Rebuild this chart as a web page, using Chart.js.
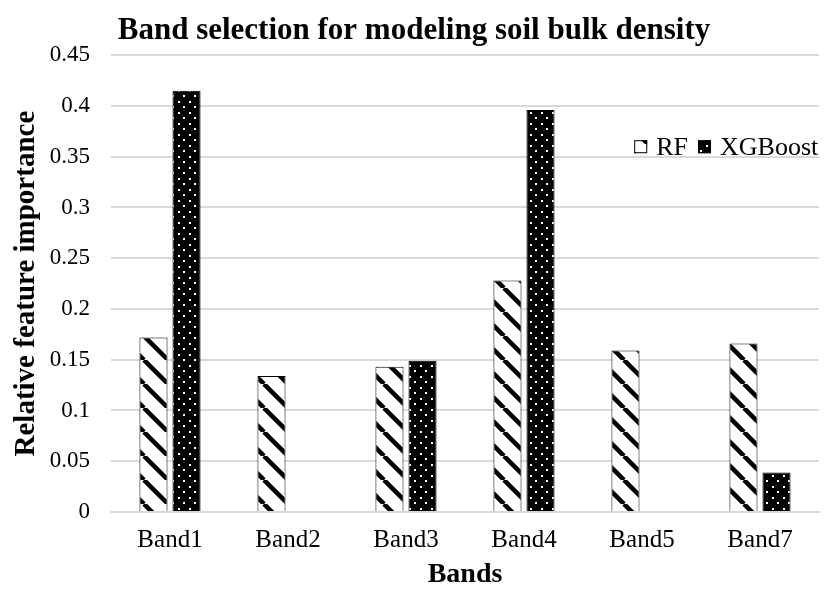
<!DOCTYPE html>
<html>
<head>
<meta charset="utf-8">
<script src="https://cdn.jsdelivr.net/npm/chart.js@4.4.1/dist/chart.umd.min.js"></script>
<style>
  html, body { margin: 0; padding: 0; background: #fff; }
  #wrap { width: 833px; height: 592px; }
</style>
</head>
<body>
<div id="wrap"><canvas id="bandChart"></canvas></div>
<script>
const categories = ["Band1", "Band2", "Band3", "Band4", "Band5", "Band7"];
const rfValues = [0.172, 0.134, 0.143, 0.228, 0.159, 0.166];
const xgbValues = [0.415, 0, 0.149, 0.396, 0, 0.039];
const seriesNames = ["RF", "XGBoost"];

const serif = "'Liberation Serif', 'Times New Roman', serif";

// diagonal stripes for RF
function stripePattern() {
    const s = 24;
    const c = document.createElement("canvas");
    c.width = s; c.height = s;
    const g = c.getContext("2d");
    g.fillStyle = "#fff";
    g.fillRect(0, 0, s, s);
    g.strokeStyle = "#000";
    g.lineWidth = 4.5;
    for (const o of [-s, 0, s]) {
        g.beginPath();
        g.moveTo(o, 0);
        g.lineTo(o + s, s);
        g.stroke();
    }
    return g.createPattern(c, "repeat");
}

// black with white dots for XGBoost
function dotPattern() {
    const s = 11;
    const c = document.createElement("canvas");
    c.width = s; c.height = s;
    const g = c.getContext("2d");
    g.fillStyle = "#000";
    g.fillRect(0, 0, s, s);
    g.fillStyle = "#fff";
    g.fillRect(2, 2, 2, 2);
    g.fillRect(7, 7, 2, 2);
    return g.createPattern(c, "repeat");
}

const rfFill = stripePattern();
const xgbFill = dotPattern();

// legend drawn inside the plot, top right
const insideLegend = {
    id: "insideLegend",
    afterDraw(chart) {
        const ctx = chart.ctx;
        const area = chart.chartArea;
        const fills = [rfFill, xgbFill];
        const box = 13, textGap = 9, itemGap = 10;
        const y = area.top + 92;
        ctx.save();
        ctx.font = "26px " + serif;
        ctx.textBaseline = "middle";
        const rfW = ctx.measureText(seriesNames[0]).width;
        const xs = [area.right - 121 - itemGap - rfW - textGap - box, area.right - 121];
        seriesNames.forEach((name, i) => {
            const x = xs[i];
            ctx.fillStyle = fills[i];
            ctx.fillRect(x, y - 7, box, box);
            ctx.strokeStyle = "#000";
            ctx.lineWidth = 1;
            ctx.strokeRect(x + 0.5, y - 6.5, box - 1, box - 1);
            ctx.fillStyle = "#000";
            ctx.fillText(name, x + box + textGap, y + 1);
        });
        ctx.restore();
    }
};

new Chart(document.getElementById("bandChart"), {
    type: "bar",
    data: {
        labels: categories,
        datasets: [
            {
                label: seriesNames[0],
                data: rfValues,
                backgroundColor: rfFill,
                borderColor: "#000",
                borderWidth: 1,
            },
            {
                label: seriesNames[1],
                data: xgbValues,
                backgroundColor: xgbFill,
                borderColor: "#000",
                borderWidth: 1,
            },
        ],
    },
    options: {
        responsive: true,
        maintainAspectRatio: false,
        animation: false,
        categoryPercentage: 0.56,
        barPercentage: 0.85,
        layout: { padding: { top: 0, right: 14, left: 9, bottom: 0 } },
        plugins: {
            legend: { display: false },
            tooltip: { enabled: false },
            title: {
                display: true,
                text: "Band selection for modeling soil bulk density",
                color: "#000",
                font: { family: serif, size: 31, weight: "bold" },
                padding: { top: 12, bottom: 6 },
            },
        },
        scales: {
            x: {
                grid: { display: false, drawTicks: false },
                border: { color: "#d9d9d9", width: 2 },
                ticks: { color: "#000", font: { family: serif, size: 25 }, padding: 13 },
                title: {
                    display: true,
                    text: "Bands",
                    color: "#000",
                    font: { family: serif, size: 28, weight: "bold" },
                    padding: { top: 2, bottom: 0 },
                },
                afterFit: s => { s.height = 80; },
            },
            y: {
                min: 0,
                max: 0.45,
                grid: { color: "#d9d9d9", lineWidth: 2, drawTicks: false },
                border: { display: false },
                ticks: {
                    stepSize: 0.05,
                    color: "#000",
                    font: { family: serif, size: 23 },
                    padding: 21,
                    callback: v => +v.toFixed(2),
                },
                title: {
                    display: true,
                    text: "Relative feature importance",
                    color: "#000",
                    font: { family: serif, size: 29, weight: "bold" },
                    padding: { top: 0, bottom: 5 },
                },
                afterFit: s => { s.width = 102; },
            },
        },
    },
    plugins: [insideLegend],
});
</script>
</body>
</html>
